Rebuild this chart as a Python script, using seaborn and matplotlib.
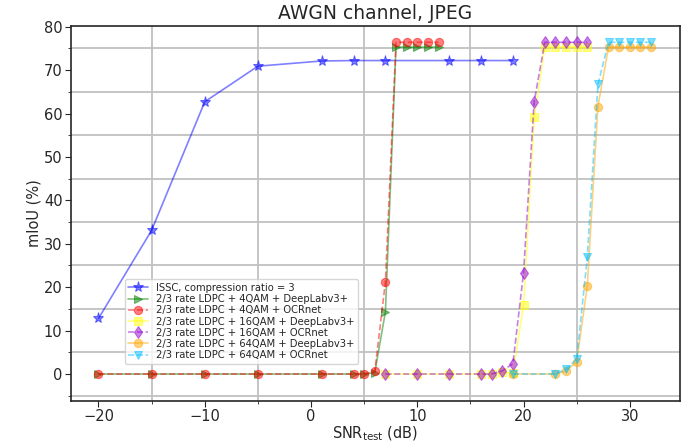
import matplotlib
matplotlib.use('Agg')
import matplotlib.pyplot as plt
from matplotlib.ticker import MultipleLocator
import seaborn as sns
import pandas as pd

sns.set_style('ticks')
plt.rcParams['font.family'] = ['DejaVu Sans']

# ISSC
snr_issc = [-20, -15, -10, -5, 1, 4, 7, 13, 16, 19]
miou_issc = [12.8, 33.1, 62.7, 70.9, 72.1, 72.2, 72.2, 72.2, 72.2, 72.2]

# 4QAM
snr_4qam = [-20, -15, -10, -5, 1, 4, 5, 6, 7, 8, 9, 10, 11, 12]
miou_4qam_dl = [0, 0, 0, 0, 0, 0, 0, 0.3, 14.3, 75.3, 75.3, 75.3, 75.3, 75.3]
miou_4qam_ocr = [0, 0, 0, 0, 0, 0, 0, 0.6, 21.2, 76.4, 76.4, 76.4, 76.4, 76.4]

# 16QAM
snr_16qam = [7, 10, 13, 16, 17, 18, 19, 20, 21, 22, 23, 24, 25, 26]
miou_16qam_dl = [0, 0, 0, 0, 0, 0.4, 0.2, 15.8, 59.1, 75.3, 75.3, 75.3, 75.3, 75.3]
miou_16qam_ocr = [0, 0, 0, 0, 0, 0.7, 2.4, 23.3, 62.7, 76.4, 76.4, 76.4, 76.4, 76.4]

# 64QAM
snr_64qam = [19, 23, 24, 25, 26, 27, 28, 29, 30, 31, 32]
miou_64qam_dl = [0, 0, 0.7, 2.8, 20.3, 61.6, 75.3, 75.3, 75.3, 75.3, 75.3]
miou_64qam_ocr = [0, 0, 1.1, 3.4, 26.9, 66.7, 76.4, 76.4, 76.4, 76.4, 76.4]

series = [
    ('ISSC, compression ratio = 3', snr_issc, miou_issc, 'blue', '*', '-', 8),
    ('2/3 rate LDPC + 4QAM + DeepLabv3+', snr_4qam, miou_4qam_dl, 'green', '>', '-', 6),
    ('2/3 rate LDPC + 4QAM + OCRnet', snr_4qam, miou_4qam_ocr, 'red', 'o', '--', 6),
    ('2/3 rate LDPC + 16QAM + DeepLabv3+', snr_16qam, miou_16qam_dl, 'yellow', 's', '-', 6),
    ('2/3 rate LDPC + 16QAM + OCRnet', snr_16qam, miou_16qam_ocr, 'darkviolet', 'd', '--', 6),
    ('2/3 rate LDPC + 64QAM + DeepLabv3+', snr_64qam, miou_64qam_dl, 'orange', 'o', '-', 6),
    ('2/3 rate LDPC + 64QAM + OCRnet', snr_64qam, miou_64qam_ocr, 'deepskyblue', 'v', '--', 6),
]

fig, ax = plt.subplots(figsize=(6.88, 4.45), dpi=100)
for label, x, y, c, m, ls, ms in series:
    d = pd.DataFrame({'snr': x, 'miou': y})
    sns.lineplot(data=d, x='snr', y='miou', ax=ax, color=c, marker=m, linestyle=ls,
                 alpha=0.5, markersize=ms, markeredgecolor=c, label=label, linewidth=1.2)

ax.set_xlim(-22.6, 34.7)
ax.set_ylim(-6.1, 80.2)
ax.xaxis.set_major_locator(MultipleLocator(10))
ax.xaxis.set_minor_locator(MultipleLocator(5))
ax.yaxis.set_major_locator(MultipleLocator(10))
ax.yaxis.set_minor_locator(MultipleLocator(5))
ax.grid(False)
ax.grid(which='minor', color='#c0c0c0', linewidth=1.3)
ax.tick_params(which='major', labelsize=10.5, length=4, pad=2)
ax.tick_params(which='minor', length=2.5)
for s in ax.spines.values():
    s.set_visible(True)
    s.set_linewidth(1.2)

ax.set_title('AWGN channel, JPEG', fontsize=13.5, pad=5)
ax.set_xlabel(r'SNR$_{\mathrm{test}}$ (dB)', fontsize=10.5, labelpad=0.5)
ax.set_ylabel('mIoU (%)', fontsize=10.5, labelpad=2)
ax.legend(loc='lower left', bbox_to_anchor=(0.08, 0.085), fontsize=7.2,
          handlelength=2, labelspacing=0.12, borderpad=0.35, framealpha=0.8)

plt.subplots_adjust(left=0.103, right=0.988, top=0.942, bottom=0.1)
plt.savefig('out.png')
